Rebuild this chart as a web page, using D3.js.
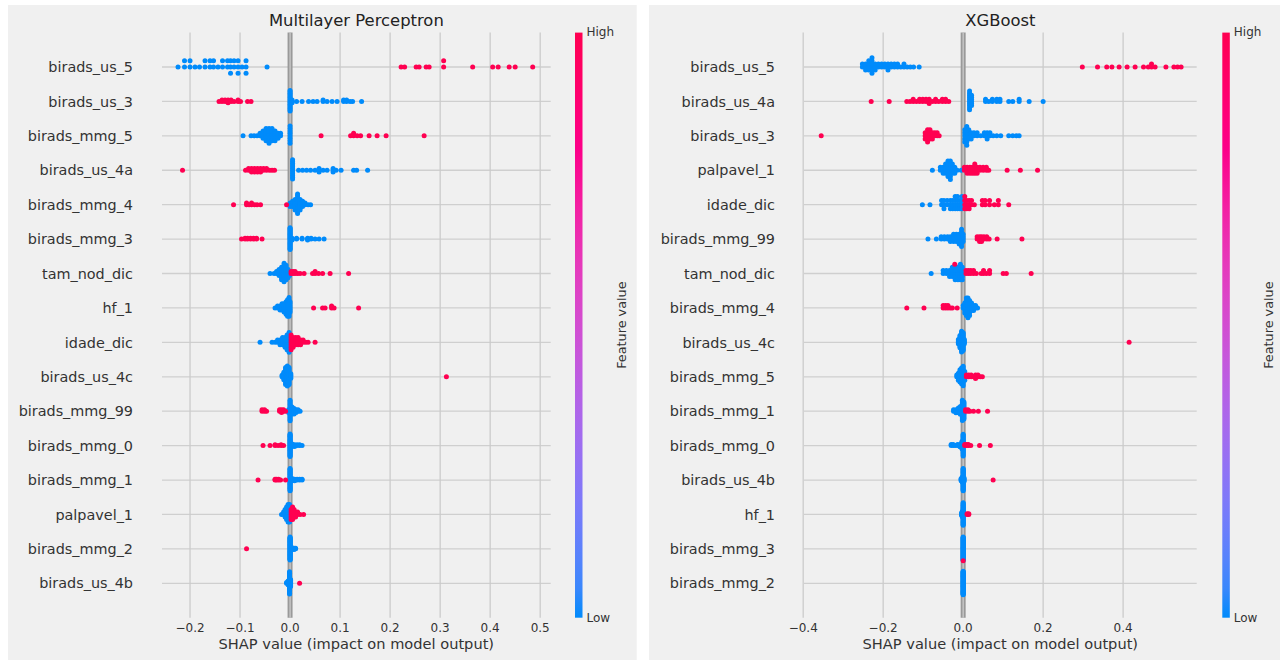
<!DOCTYPE html>
<html>
<head>
<meta charset="utf-8">
<script src="https://cdn.jsdelivr.net/npm/d3@7"></script>
<style>
  body { margin: 0; background: #fff; }
  svg text { font-family: "DejaVu Sans", sans-serif; fill: #333; }
</style>
</head>
<body>
<svg id="chart" width="1280" height="660"></svg>
<script>
// ---- data: [shap value, number of points] per feature, low (blue) / high (red) feature values
var mlpFeatures = ["birads_us_5", "birads_us_3", "birads_mmg_5", "birads_us_4a", "birads_mmg_4",
  "birads_mmg_3", "tam_nod_dic", "hf_1", "idade_dic", "birads_us_4c", "birads_mmg_99",
  "birads_mmg_0", "birads_mmg_1", "palpavel_1", "birads_mmg_2", "birads_us_4b"];

var mlpLow = [
  [[-0.224,1],[-0.211,2],[-0.2,2],[-0.19,1],[-0.181,1],[-0.17,2],[-0.16,2],[-0.153,2],[-0.144,1],[-0.135,2],[-0.125,2],[-0.119,3],[-0.112,2],[-0.104,3],[-0.096,1],[-0.088,3],[-0.046,1]],
  [[0.0,16],[0.004,3],[0.013,1],[0.024,1],[0.037,1],[0.046,1],[0.054,1],[0.066,2],[0.074,1],[0.084,1],[0.094,1],[0.107,2],[0.113,2],[0.12,1],[0.125,1],[0.143,1]],
  [[-0.094,1],[-0.078,1],[-0.072,1],[-0.066,1],[-0.06,2],[-0.054,4],[-0.048,6],[-0.042,7],[-0.036,6],[-0.03,5],[-0.024,3],[-0.019,2],[0.0,8]],
  [[0.005,12],[0.017,1],[0.025,1],[0.033,1],[0.041,1],[0.05,1],[0.058,3],[0.066,1],[0.074,1],[0.086,3],[0.092,1],[0.102,1],[0.127,1],[0.133,1],[0.155,1]],
  [[0.0,3],[0.005,4],[0.01,7],[0.015,12],[0.02,7],[0.025,4],[0.03,2],[0.036,1],[0.041,1]],
  [[0.0,24],[0.004,3],[0.013,2],[0.024,2],[0.035,3],[0.042,2],[0.05,1],[0.058,1],[0.068,1]],
  [[-0.04,1],[-0.032,1],[-0.027,2],[-0.022,4],[-0.017,7],[-0.012,10],[-0.008,8],[-0.004,5],[-0.001,3]],
  [[-0.03,1],[-0.025,2],[-0.02,3],[-0.016,4],[-0.012,5],[-0.008,7],[-0.005,9],[-0.002,10],[0.0,6]],
  [[-0.06,1],[-0.036,1],[-0.03,1],[-0.025,2],[-0.02,3],[-0.015,4],[-0.01,5],[-0.006,7],[-0.002,9]],
  [[-0.016,2],[-0.0125,6],[-0.009,12],[-0.0055,14],[-0.002,12],[0.0015,4]],
  [[-0.003,3],[0.0,16],[0.004,6],[0.008,5],[0.012,3],[0.016,2],[0.02,1]],
  [[0.0,30],[0.004,4],[0.009,3],[0.014,2],[0.019,2],[0.024,1]],
  [[0.0,28],[0.004,4],[0.009,3],[0.014,2],[0.019,2],[0.024,2]],
  [[-0.017,1],[-0.013,2],[-0.01,4],[-0.007,6],[-0.004,8],[-0.001,8]],
  [[0.0,40],[0.004,4],[0.008,3],[0.011,2]],
  [[-0.007,2],[-0.004,6],[-0.001,30],[0.001,10]]
];

var mlpHigh = [
  [[0.222,1],[0.229,1],[0.252,1],[0.258,1],[0.272,1],[0.278,1],[0.307,2],[0.365,1],[0.405,1],[0.416,1],[0.438,1],[0.45,1],[0.485,1]],
  [[-0.142,1],[-0.136,2],[-0.13,2],[-0.124,3],[-0.118,2],[-0.112,1],[-0.104,2],[-0.099,1],[-0.085,1],[-0.078,1]],
  [[0.062,1],[0.121,1],[0.127,2],[0.134,1],[0.141,1],[0.158,1],[0.174,1],[0.192,1],[0.268,1]],
  [[-0.215,1],[-0.089,1],[-0.083,2],[-0.077,3],[-0.071,3],[-0.065,3],[-0.059,3],[-0.053,2],[-0.047,2],[-0.041,1],[-0.036,1],[-0.031,1]],
  [[-0.113,1],[-0.087,2],[-0.082,1],[-0.077,2],[-0.071,1],[-0.066,1],[-0.059,1],[-0.007,1]],
  [[-0.097,1],[-0.09,2],[-0.085,2],[-0.079,2],[-0.073,2],[-0.067,2],[-0.056,1]],
  [[0.002,2],[0.006,2],[0.01,2],[0.015,1],[0.02,1],[0.028,1],[0.045,1],[0.05,2],[0.057,1],[0.065,1],[0.08,1],[0.117,1]],
  [[0.047,1],[0.065,1],[0.07,1],[0.083,2],[0.088,1],[0.137,1]],
  [[0.002,7],[0.006,5],[0.011,4],[0.016,4],[0.021,3],[0.026,2],[0.031,1],[0.036,1],[0.05,1]],
  [[0.3125,1]],
  [[-0.056,2],[-0.051,2],[-0.047,1],[-0.021,2],[-0.017,3],[-0.013,2],[-0.009,1]],
  [[-0.054,1],[-0.04,1],[-0.03,2],[-0.024,1],[-0.018,2],[-0.013,1]],
  [[-0.064,1],[-0.03,2],[-0.027,2],[-0.023,2],[-0.019,1],[-0.009,1]],
  [[0.002,5],[0.005,6],[0.008,4],[0.011,3],[0.015,2],[0.02,1],[0.027,1]],
  [[-0.087,1]],
  [[0.019,1]]
];

var xgbFeatures = ["birads_us_5", "birads_us_4a", "birads_us_3", "palpavel_1", "idade_dic",
  "birads_mmg_99", "tam_nod_dic", "birads_mmg_4", "birads_us_4c", "birads_mmg_5", "birads_mmg_1",
  "birads_mmg_0", "birads_us_4b", "hf_1", "birads_mmg_3", "birads_mmg_2"];

var xgbLow = [
  [[-0.252,2],[-0.244,3],[-0.236,4],[-0.228,6],[-0.22,3],[-0.212,2],[-0.204,2],[-0.196,2],[-0.188,3],[-0.18,2],[-0.172,2],[-0.164,2],[-0.156,1],[-0.148,2],[-0.14,1],[-0.132,1],[-0.124,1],[-0.11,1]],
  [[0.016,10],[0.021,6],[0.056,2],[0.064,1],[0.073,2],[0.084,2],[0.092,2],[0.114,1],[0.124,1],[0.14,2],[0.165,1],[0.2,1]],
  [[0.004,5],[0.009,7],[0.014,4],[0.02,3],[0.027,2],[0.035,2],[0.044,1],[0.053,2],[0.06,3],[0.067,2],[0.075,1],[0.084,1],[0.094,1],[0.114,1],[0.124,1],[0.133,1],[0.14,1]],
  [[-0.077,1],[-0.057,2],[-0.05,3],[-0.044,4],[-0.038,6],[-0.032,7],[-0.027,4],[-0.021,3],[-0.015,1],[-0.005,1]],
  [[-0.102,1],[-0.083,1],[-0.054,2],[-0.048,3],[-0.04,2],[-0.032,3],[-0.026,3],[-0.02,4],[-0.014,4],[-0.008,3],[-0.003,4]],
  [[-0.088,1],[-0.067,1],[-0.055,2],[-0.047,2],[-0.039,2],[-0.032,3],[-0.024,4],[-0.017,4],[-0.01,5],[-0.004,8],[0.0,4]],
  [[-0.08,1],[-0.05,2],[-0.042,2],[-0.034,3],[-0.027,4],[-0.02,5],[-0.013,5],[-0.007,6],[-0.002,5]],
  [[0.0,2],[0.004,5],[0.008,8],[0.012,9],[0.016,7],[0.021,4],[0.026,3],[0.031,2],[0.036,1]],
  [[-0.012,4],[-0.008,10],[-0.004,16],[0.0,14],[0.003,4]],
  [[-0.016,2],[-0.012,5],[-0.008,8],[-0.004,10],[0.0,12],[0.004,6]],
  [[-0.024,2],[-0.018,3],[-0.012,4],[-0.007,6],[-0.002,14],[0.002,12]],
  [[-0.03,2],[-0.025,2],[-0.02,1],[-0.014,2],[-0.008,3],[-0.003,8],[0.0,22]],
  [[-0.005,4],[-0.002,8],[0.0,30],[0.002,6]],
  [[-0.004,4],[-0.002,8],[0.0,30],[0.002,4]],
  [[0.0,48]],
  [[0.0,50]]
];

var xgbHigh = [
  [[0.298,1],[0.336,1],[0.359,1],[0.372,1],[0.39,1],[0.41,1],[0.43,1],[0.451,1],[0.463,1],[0.471,2],[0.48,1],[0.507,1],[0.527,1],[0.536,1],[0.545,1]],
  [[-0.23,1],[-0.185,1],[-0.141,1],[-0.133,1],[-0.125,2],[-0.117,1],[-0.109,2],[-0.101,2],[-0.093,2],[-0.085,3],[-0.077,1],[-0.069,2],[-0.061,1],[-0.052,2],[-0.044,2],[-0.036,1]],
  [[-0.355,1],[-0.095,3],[-0.089,5],[-0.083,4],[-0.077,3],[-0.071,2],[-0.065,2],[-0.06,1]],
  [[0.003,2],[0.01,3],[0.017,3],[0.023,3],[0.029,4],[0.035,3],[0.042,2],[0.05,2],[0.058,2],[0.064,1],[0.11,1],[0.143,1],[0.186,1]],
  [[0.004,4],[0.009,3],[0.015,3],[0.021,2],[0.028,1],[0.048,2],[0.055,2],[0.066,2],[0.078,1],[0.088,2],[0.114,1]],
  [[0.035,2],[0.041,3],[0.046,3],[0.052,2],[0.059,2],[0.065,1],[0.085,1],[0.147,1]],
  [[-0.021,1],[0.007,2],[0.013,2],[0.019,2],[0.026,2],[0.033,1],[0.045,1],[0.051,2],[0.058,1],[0.066,2],[0.1,1],[0.108,1],[0.17,1]],
  [[-0.141,1],[-0.098,1],[-0.05,2],[-0.044,2],[-0.038,2],[-0.032,1],[-0.027,1],[-0.015,1]],
  [[0.415,1]],
  [[0.008,2],[0.014,2],[0.02,2],[0.026,1],[0.031,3],[0.037,2],[0.043,1],[0.048,1]],
  [[0.006,2],[0.012,2],[0.017,1],[0.026,1],[0.038,1],[0.061,1]],
  [[0.004,2],[0.009,2],[0.013,2],[0.019,1],[0.041,1],[0.068,1]],
  [[0.075,1]],
  [[0.01,2],[0.014,2]],
  [[0.0,1]],
  []
];

var mlpTicks = [-0.2, -0.1, 0.0, 0.1, 0.2, 0.3, 0.4, 0.5];
var xgbTicks = [-0.4, -0.2, 0.0, 0.2, 0.4];

var lowColor = "#008bfb",
    highColor = "#ff0051";

var panels = [
  { title: "Multilayer Perceptron", features: mlpFeatures, low: mlpLow, high: mlpHigh, ticks: mlpTicks,
    domain: [-0.256, 0.521], box: [8, 636.7], plot: [162, 550.7], cbar: 575 },
  { title: "XGBoost", features: xgbFeatures, low: xgbLow, high: xgbHigh, ticks: xgbTicks,
    domain: [-0.398, 0.584], box: [649, 1280], plot: [804, 1196.7], cbar: 1222.3 }
];

var plotTop = 32.6, plotBottom = 617.7;
var fmt = d3.format(".1f");
var svg = d3.select("#chart");

// colour bar gradient (blue -> purple -> red)
var grad = svg.append("defs").append("linearGradient")
    .attr("id", "cbar").attr("x1", 0).attr("y1", 1).attr("x2", 0).attr("y2", 0);
var cmap = d3.interpolateHcl(lowColor, highColor);
d3.range(0, 1.0001, 0.05).forEach(function(t) {
  grad.append("stop").attr("offset", t).attr("stop-color", cmap(t));
});

// beeswarm layout like shap: quantise into 100 bins, alternate layers up/down
function swarm(pts) {
  var lo = d3.min(pts, function(p) { return p.v; }),
      hi = d3.max(pts, function(p) { return p.v; });
  pts.forEach(function(p) { p.q = Math.round(100 * (p.v - lo) / (hi - lo + 1e-8)); });
  var order = d3.range(pts.length).sort(function(a, b) { return pts[a].q - pts[b].q || a - b; });
  var layer = 0, last = -1;
  order.forEach(function(i) {
    if (pts[i].q !== last) layer = 0;
    pts[i].ys = Math.ceil(layer / 2) * ((layer % 2) * 2 - 1);
    layer++;
    last = pts[i].q;
  });
  var m = d3.max(pts, function(p) { return p.ys + 1; });
  pts.forEach(function(p) { p.ys *= 0.9 * (0.4 / m); });
  return pts;
}

function expand(list, high) {
  var out = [];
  list.forEach(function(d) {
    for (var k = 0; k < d[1]; k++) out.push({ v: d[0], high: high });
  });
  return out;
}

panels.forEach(function(p) {
  var g = svg.append("g");

  g.append("rect")
      .attr("x", p.box[0]).attr("y", 5)
      .attr("width", p.box[1] - p.box[0]).attr("height", 660)
      .attr("fill", "#f0f0f0");

  var x = d3.scaleLinear().domain(p.domain).range(p.plot);
  var y = d3.scalePoint().domain(p.features).range([plotTop, plotBottom]).padding(1);
  var step = y.step();

  // row grid lines
  g.selectAll(".row").data(p.features).enter().append("line")
      .attr("x1", p.plot[0]).attr("x2", p.plot[1])
      .attr("y1", function(d) { return y(d); }).attr("y2", function(d) { return y(d); })
      .attr("stroke", "#cfcfcf").attr("stroke-width", 1.3);

  // zero line
  g.append("line")
      .attr("x1", x(0)).attr("x2", x(0)).attr("y1", plotTop).attr("y2", plotBottom)
      .attr("stroke", "#999999").attr("stroke-width", 5);

  // vertical grid
  g.selectAll(".vgrid").data(p.ticks).enter().append("line")
      .attr("x1", function(d) { return x(d); }).attr("x2", function(d) { return x(d); })
      .attr("y1", plotTop).attr("y2", plotBottom)
      .attr("stroke", "#cbcbcb").attr("stroke-width", 1.3);

  // dots
  p.features.forEach(function(f, i) {
    var pts = swarm(expand(p.low[i], false).concat(expand(p.high[i], true)));
    g.selectAll(null).data(pts).enter().append("circle")
        .attr("cx", function(d) { return x(d.v); })
        .attr("cy", function(d) { return y(f) - d.ys * step; })
        .attr("r", 2.5)
        .attr("fill", function(d) { return d.high ? highColor : lowColor; });
  });

  // feature labels
  g.selectAll(".lab").data(p.features).enter().append("text")
      .attr("x", p.plot[0] - 29)
      .attr("y", function(d) { return y(d); })
      .attr("dy", "0.36em")
      .attr("text-anchor", "end")
      .style("font-size", "14.4px")
      .text(function(d) { return d; });

  // x tick labels
  g.selectAll(".tick").data(p.ticks).enter().append("text")
      .attr("x", function(d) { return x(d); })
      .attr("y", plotBottom + 14.5)
      .attr("text-anchor", "middle")
      .style("font-size", "12px")
      .text(function(d) { return fmt(d); });

  var cx = (p.plot[0] + p.plot[1]) / 2;
  g.append("text")
      .attr("x", cx).attr("y", 649)
      .attr("text-anchor", "middle")
      .style("font-size", "14.6px")
      .text("SHAP value (impact on model output)");

  g.append("text")
      .attr("x", cx).attr("y", 25.5)
      .attr("text-anchor", "middle")
      .style("font-size", "16.4px")
      .style("fill", "#222")
      .text(p.title);

  // colour bar
  g.append("rect")
      .attr("x", p.cbar).attr("y", plotTop)
      .attr("width", 7.5).attr("height", plotBottom - plotTop)
      .attr("fill", "url(#cbar)");
  g.append("text")
      .attr("x", p.cbar + 11.5).attr("y", 36.3)
      .style("font-size", "12px")
      .text("High");
  g.append("text")
      .attr("x", p.cbar + 11.5).attr("y", 622)
      .style("font-size", "12px")
      .text("Low");
  g.append("text")
      .attr("transform", "translate(" + (p.cbar + 46) + "," + ((plotTop + plotBottom) / 2) + ") rotate(-90)")
      .attr("dy", "0.36em")
      .attr("text-anchor", "middle")
      .style("font-size", "12.8px")
      .text("Feature value");
});
</script>
</body>
</html>
